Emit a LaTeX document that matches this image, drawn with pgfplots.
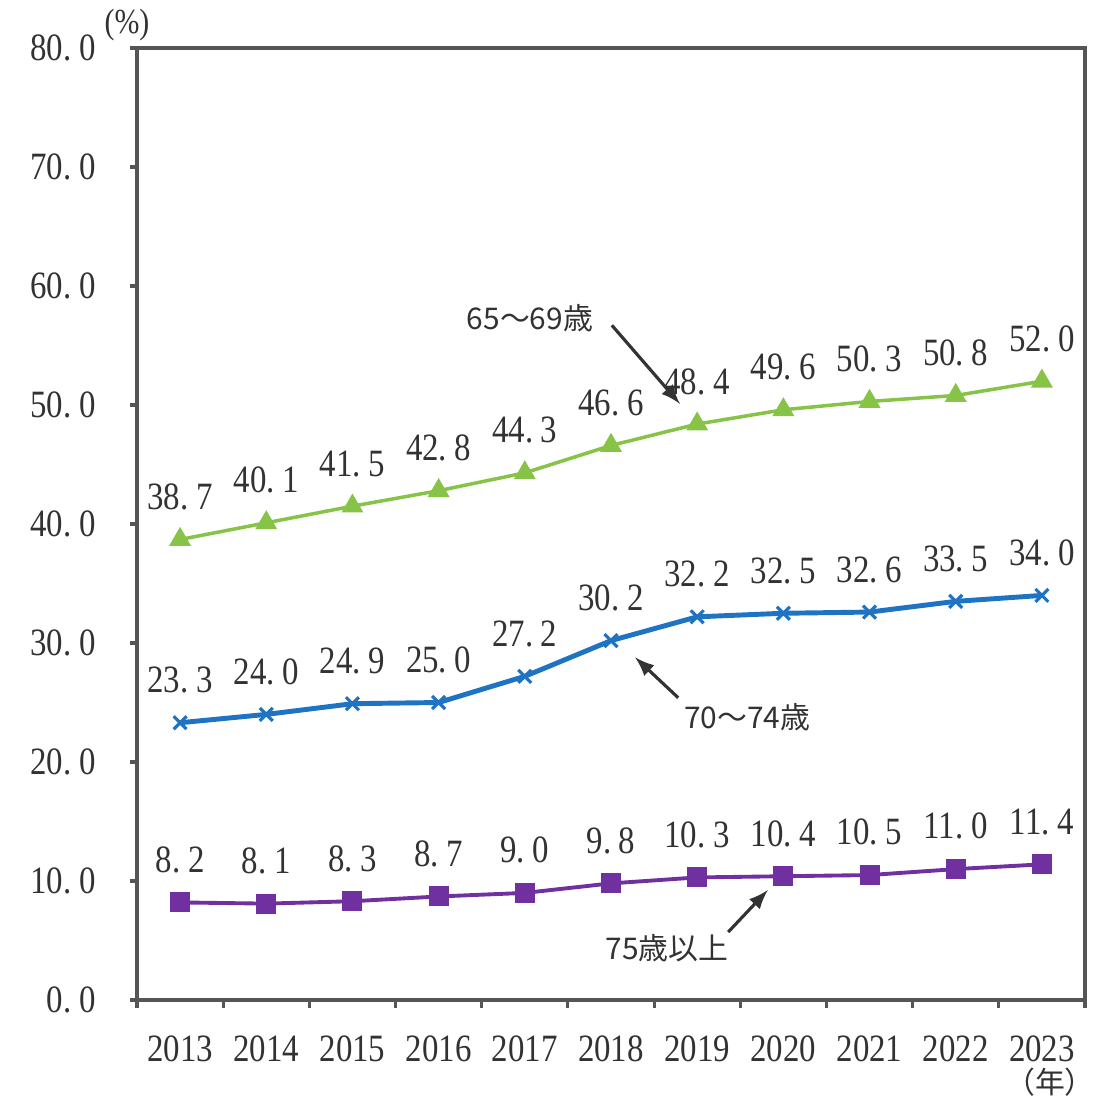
\documentclass[border=0pt]{standalone}
\usepackage{fontspec}
\setmainfont{Liberation Serif}[FakeStretch=0.85]
\newfontfamily\jp{Noto Sans CJK JP}
\usepackage{pgfplots}
\pgfplotsset{compat=1.18}

\definecolor{gline}{RGB}{135,195,70}
\definecolor{bline}{RGB}{30,115,195}
\definecolor{pline}{RGB}{112,48,160}
\definecolor{txt}{RGB}{50,50,50}
\definecolor{axc}{RGB}{85,85,85}

\begin{document}
\begin{tikzpicture}[x=1cm,y=1cm]
\useasboundingbox (0,0) rectangle (11.02,11.02);
\begin{axis}[
  at={(1.37cm,1.02cm)}, anchor=south west,
  scale only axis, width=9.48cm, height=9.52cm,
  xmin=-0.5, xmax=10.5, ymin=0, ymax=80,
  xtick={0,...,10},
  xticklabels={2013,2014,2015,2016,2017,2018,2019,2020,2021,2022,2023},
  major x tick style={draw=none},
  minor xtick={-0.5,0.5,...,10.5},
  ytick={0,10,...,80},
  yticklabels={{0.\hspace{0.2em}0},{10.\hspace{0.2em}0},{20.\hspace{0.2em}0},{30.\hspace{0.2em}0},{40.\hspace{0.2em}0},{50.\hspace{0.2em}0},{60.\hspace{0.2em}0},{70.\hspace{0.2em}0},{80.\hspace{0.2em}0}},
  xtick pos=bottom, ytick pos=left,
  tick align=outside,
  major tick length=0.7mm, minor tick length=0.8mm,
  axis line style={axc, line width=1pt},
  every tick/.style={axc, line width=0.9pt},
  tick label style={font=\fontsize{11}{13}\selectfont, text=txt},
  yticklabel style={xshift=-2.2mm},
  xticklabel style={yshift=-1.6mm},
  nodes near coords={\pgfmathprintnumber[fixed,fixed zerofill,precision=1,assume math mode=true,set decimal separator={.\hspace{0.2em}}]{\pgfplotspointmeta}},
  every node near coord/.append style={font=\fontsize{11}{13}\selectfont, text=txt, yshift=1.6mm},
  clip=false,
]
% 65-69
\addplot[gline, line width=1pt, mark=triangle*, mark size=2.6pt, mark options={fill=gline}]
  coordinates {(0,38.7) (1,40.1) (2,41.5) (3,42.8) (4,44.3) (5,46.6) (6,48.4) (7,49.6) (8,50.3) (9,50.8) (10,52.0)};
% 70-74
\addplot[bline, line width=1.4pt, mark=x, mark size=2.6pt, mark options={line width=0.9pt}]
  coordinates {(0,23.3) (1,24.0) (2,24.9) (3,25.0) (4,27.2) (5,30.2) (6,32.2) (7,32.5) (8,32.6) (9,33.5) (10,34.0)};
% 75+
\addplot[pline, line width=1.1pt, mark=square*, mark size=2.3pt, mark options={fill=pline}]
  coordinates {(0,8.2) (1,8.1) (2,8.3) (3,8.7) (4,9.0) (5,9.8) (6,10.3) (7,10.4) (8,10.5) (9,11.0) (10,11.4)};

% series names with pointers
\node[text=txt, font=\jp\fontsize{8.5}{10}\selectfont] at (axis cs:4.06,57.3) {65～69歳};
\draw[-latex, black!80, line width=0.9pt] (axis cs:5.01,56.7) -- (axis cs:5.80,50.1);
\node[text=txt, font=\jp\fontsize{8.5}{10}\selectfont] at (axis cs:6.58,23.8) {70～74歳};
\draw[-latex, black!80, line width=0.9pt] (axis cs:5.78,25.4) -- (axis cs:5.28,28.8);
\node[text=txt, font=\jp\fontsize{8.5}{10}\selectfont] at (axis cs:5.65,4.37) {75歳以上};
\draw[-latex, black!80, line width=0.9pt] (axis cs:6.36,5.71) -- (axis cs:6.82,9.24);
\end{axis}
\node[text=txt, font=\fontsize{10}{12}\selectfont] at (1.27,10.77) {(\%)};
\node[text=txt, font=\jp\fontsize{8.5}{10}\selectfont] at (10.50,0.20) {（年）};
\end{tikzpicture}
\end{document}
